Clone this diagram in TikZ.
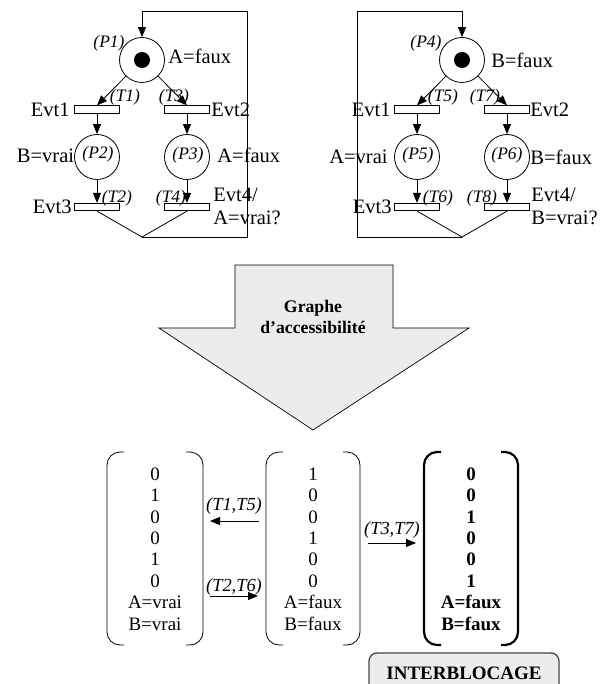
\documentclass[tikz,border=0pt]{standalone}
\usepackage{fontspec}
\setmainfont{Liberation Serif}
\usetikzlibrary{arrows.meta}
\begin{document}
\begin{tikzpicture}[x=1pt,y=-1pt,
  line width=0.8pt,
  arr/.style={-{Triangle[length=10pt,width=8pt]}},
  place/.style={draw,circle,minimum size=45pt,inner sep=0pt,fill=white},
  trans/.style={draw,rectangle,minimum width=45pt,minimum height=7.5pt,inner sep=0pt,fill=white},
  tok/.style={fill=black,circle,minimum size=16pt,inner sep=0pt},
  lbl/.style={inner sep=0pt,font=\fontsize{20.5}{23}\selectfont},
  tl/.style={inner sep=0pt,font=\fontsize{17.5}{20}\selectfont\itshape},
  mat/.style={inner sep=0pt,align=center,font=\fontsize{19}{21.4}\selectfont},
  bmat/.style={inner sep=0pt,align=center,font=\fontsize{19}{21.4}\selectfont\bfseries},
  brk/.style={line width=0.8pt,rounded corners=13pt},
  bbrk/.style={line width=2.2pt,rounded corners=13pt}]
\useasboundingbox (0,0) rectangle (609,684);
\clip (0,0) rectangle (609,684);

% ---------- left net ----------
\node[place] (P1) at (142,60) {};
\node[tok] (k1) at (142,60) {};
\node[trans] (T1) at (97,109.5) {};
\node[trans] (T3) at (187,109.5) {};
\node[place] (P2) at (97,157) {};
\node[place] (P3) at (187,157) {};
\node[trans] (T2) at (97,207) {};
\node[trans] (T4) at (187,207) {};
\coordinate (aL) at (142,237);
\coordinate (brL) at (247,237);
\coordinate (trL) at (247,11);
\coordinate (tL) at (142,11);

\draw[arr] (P1) -- (T1.north);
\draw[arr] (P1) -- (T3.north);
\draw[arr] (T1.south) -- (P2.north);
\draw[arr] (T3.south) -- (P3.north);
\draw[arr] (P2.south) -- (T2.north);
\draw[arr] (P3.south) -- (T4.north);
\draw (T2.south) -- (aL) -- (T4.south);
\draw[arr] (aL) -- (brL) -- (trL) -- (tL) -- (P1.north);

\node[tl] (lp1) at (109,43) {(P1)};
\node[lbl,anchor=west] (la1) at (168,56) {A=faux};
\node[tl] (lt1) at (125,97) {(T1)};
\node[tl] (lt3) at (174,97) {(T3)};
\node[lbl,anchor=east] (le1) at (70,109.5) {Evt1};
\node[lbl,anchor=west] (le2) at (211,109.5) {Evt2};
\node[lbl,anchor=east] (lb2) at (74.5,156) {B=vrai};
\node[tl] (lp2) at (98,154) {(P2)};
\node[tl] (lp3) at (188,155) {(P3)};
\node[lbl,anchor=west] (la3) at (217,155) {A=faux};
\node[lbl,anchor=east] (le3) at (72,207) {Evt3};
\node[tl] (lt2) at (117,198) {(T2)};
\node[tl] (lt4) at (171,198) {(T4)};
\node[lbl,anchor=west] (le4) at (213,195) {Evt4/};
\node[lbl,anchor=west] (le4b) at (213,218) {A=vrai?};

% ---------- right net ----------
\node[place] (P4) at (462,60) {};
\node[tok] (k4) at (462,60) {};
\node[trans] (T5) at (417,109.5) {};
\node[trans] (T7) at (507,109.5) {};
\node[place] (P5) at (417,157) {};
\node[place] (P6) at (507,157) {};
\node[trans] (T6) at (417,207) {};
\node[trans] (T8) at (507,207) {};
\coordinate (aR) at (462,237);
\coordinate (blR) at (357,237);
\coordinate (tlR) at (357,11);
\coordinate (tR) at (462,11);

\draw[arr] (P4) -- (T5.north);
\draw[arr] (P4) -- (T7.north);
\draw[arr] (T5.south) -- (P5.north);
\draw[arr] (T7.south) -- (P6.north);
\draw[arr] (P5.south) -- (T6.north);
\draw[arr] (P6.south) -- (T8.north);
\draw (T6.south) -- (aR) -- (T8.south);
\draw[arr] (aR) -- (blR) -- (tlR) -- (tR) -- (P4.north);

\node[tl] (rp4) at (426,43) {(P4)};
\node[lbl,anchor=west] (rb4) at (491,60) {B=faux};
\node[tl] (rt5) at (443,97) {(T5)};
\node[tl] (rt7) at (485,97) {(T7)};
\node[lbl,anchor=east] (re1) at (391,109.5) {Evt1};
\node[lbl,anchor=west] (re2) at (530,109.5) {Evt2};
\node[lbl,anchor=east] (ra5) at (388,157) {A=vrai};
\node[tl] (rp5) at (418,155) {(P5)};
\node[tl] (rp6) at (507,155) {(P6)};
\node[lbl,anchor=west] (rb6) at (530,157) {B=faux};
\node[lbl,anchor=east] (re3) at (392,207) {Evt3};
\node[tl] (rt6) at (438,198) {(T6)};
\node[tl] (rt8) at (482,198) {(T8)};
\node[lbl,anchor=west] (re4) at (531,195) {Evt4/};
\node[lbl,anchor=west] (re4b) at (531,218) {B=vrai?};

% ---------- big arrow ----------
\draw[fill=gray!15,line width=0.7pt] (235,265) -- (393,265) -- (393,328) -- (469,328)
  -- (313,430) -- (159,328) -- (235,328) -- cycle;
\node[inner sep=0pt,align=center,font=\fontsize{17.7}{21}\selectfont\bfseries] (ga) at (313,317)
  {Graphe\\d’accessibilité};

% ---------- matrices ----------
\node[mat] (m1) at (155,549) {0\\1\\0\\0\\1\\0\\A=vrai\\B=vrai};
\node[mat] (m2) at (313,549) {1\\0\\0\\1\\0\\0\\A=faux\\B=faux};
\node[bmat] (m3) at (471,549) {0\\0\\1\\0\\0\\1\\A=faux\\B=faux};

\draw[brk] (124,452) -- (107,452) -- (107,645) -- (124,645);
\draw[brk] (186,452) -- (203,452) -- (203,645) -- (186,645);
\draw[brk] (283,452) -- (266,452) -- (266,645) -- (283,645);
\draw[brk] (343,452) -- (360,452) -- (360,645) -- (343,645);
\draw[bbrk] (441,452) -- (424,452) -- (424,645) -- (441,645);
\draw[bbrk] (501,452) -- (518,452) -- (518,645) -- (501,645);

\coordinate (a1s) at (259,521);
\coordinate (a1e) at (210,521);
\coordinate (a2s) at (210,596);
\coordinate (a2e) at (258,596);
\coordinate (a3s) at (368,543);
\coordinate (a3e) at (416,543);
\draw[arr] (a1s) -- (a1e);
\draw[arr] (a2s) -- (a2e);
\draw[arr] (a3s) -- (a3e);
\node[tl,font=\fontsize{18.4}{21}\selectfont\itshape] (x1) at (234,506) {(T1,T5)};
\node[tl,font=\fontsize{18.4}{21}\selectfont\itshape] (x2) at (234,587) {(T2,T6)};
\node[tl,font=\fontsize{18.4}{21}\selectfont\itshape] (x3) at (392,530) {(T3,T7)};

% ---------- interblocage ----------
\draw[fill=gray!15,draw=gray!55!black,line width=1.3pt,rounded corners=8pt]
  (369,653) rectangle (559,705);
\node[inner sep=0pt,font=\fontsize{19}{22}\selectfont\bfseries] (ib) at (464,673) {INTERBLOCAGE};
\end{tikzpicture}
\end{document}
